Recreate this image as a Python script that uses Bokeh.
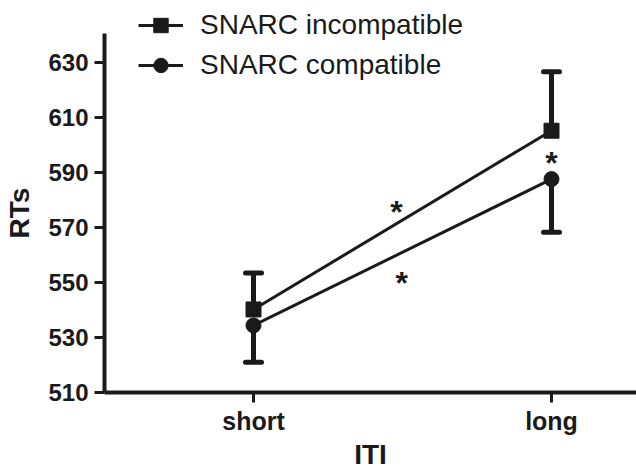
from bokeh.plotting import figure
from bokeh.models import (Range1d, FixedTicker, Legend, LegendItem, Whisker,
                          TeeHead, ColumnDataSource, Label)
from bokeh.core.properties import value
from bokeh.embed import file_html
from bokeh.resources import INLINE

# ---- data ----
iti_labels = ["short", "long"]
iti_pos = [1, 2]
incompat_mean = [540.2, 605.2]
incompat_sem = [13.3, 21.4]
compat_mean = [534.4, 587.6]
compat_sem = [13.4, 19.3]
star_x = [1.48, 1.497, 2.0]
star_y = [577.3, 551.5, 595.1]
y_ticks = [510, 530, 550, 570, 590, 610, 630]

FONT = "Liberation Sans"
col = "#1a1a1a"

# axes drawn at fixed positions inside a frame that fills the canvas
X_AXIS_BOUNDS = (0.5, 2.2852)
Y_AXIS_BOUNDS = (510, 640.5)

p = figure(output_backend="svg", toolbar_location=None, width=636, height=471,
           x_range=Range1d(0.1510, 2.2852), y_range=Range1d(481.27, 652.55),
           min_border=0)
p.outline_line_color = None
p.xgrid.visible = False
p.ygrid.visible = False

for ax in (p.xaxis[0], p.yaxis[0]):
    ax.axis_line_width = 4
    ax.axis_line_color = col
    ax.major_tick_line_width = 3
    ax.major_tick_line_color = col
    ax.major_tick_out = 10
    ax.major_tick_in = 0
    ax.minor_tick_line_color = None
    ax.major_label_text_font = FONT
    ax.major_label_text_font_style = "bold"
    ax.major_label_text_color = col
    ax.axis_label_text_font = FONT
    ax.axis_label_text_font_style = "bold"
    ax.axis_label_text_color = col
    ax.axis_label_text_font_size = "28px"

p.xaxis.fixed_location = Y_AXIS_BOUNDS[0]
p.xaxis.bounds = X_AXIS_BOUNDS
p.xaxis.ticker = FixedTicker(ticks=iti_pos)
p.xaxis.major_label_overrides = {k: v for k, v in zip(iti_pos, iti_labels)}
p.xaxis.major_label_text_font_size = "25px"
p.xaxis.major_label_standoff = 5

p.yaxis.fixed_location = X_AXIS_BOUNDS[0]
p.yaxis.bounds = Y_AXIS_BOUNDS
p.yaxis.ticker = FixedTicker(ticks=y_ticks)
p.yaxis.major_label_text_font_size = "24px"
p.yaxis.major_label_standoff = 6
p.yaxis.axis_label = "RTs"
p.yaxis.axis_label_standoff = 10

# x-axis title
xt = Label(x=sum(X_AXIS_BOUNDS) / 2, y=Y_AXIS_BOUNDS[0], y_offset=-47,
           text="ITI", text_font=FONT, text_font_style="bold", text_font_size="28px",
           text_color=col, text_align="center", text_baseline="top")
p.add_layout(xt)

# error bars
src_i = ColumnDataSource(dict(x=iti_pos, base=incompat_mean,
                              upper=[m + e for m, e in zip(incompat_mean, incompat_sem)]))
src_c = ColumnDataSource(dict(x=iti_pos, base=compat_mean,
                              lower=[m - e for m, e in zip(compat_mean, compat_sem)]))
w1 = Whisker(source=src_i, base="x", upper="upper", lower="base", dimension="height",
             line_width=5, line_color=col,
             upper_head=TeeHead(size=16, line_width=5, line_color=col, line_cap="round"),
             lower_head=None)
w2 = Whisker(source=src_c, base="x", upper="base", lower="lower", dimension="height",
             line_width=5, line_color=col,
             lower_head=TeeHead(size=16, line_width=5, line_color=col, line_cap="round"),
             upper_head=None)
p.add_layout(w1)
p.add_layout(w2)

l1 = p.line(iti_pos, incompat_mean, line_width=3, line_color=col)
m1 = p.scatter(iti_pos, incompat_mean, marker="square", size=15, color=col)
l2 = p.line(iti_pos, compat_mean, line_width=3, line_color=col)
m2 = p.scatter(iti_pos, compat_mean, marker="circle", size=15, color=col)

p.text(star_x, star_y, text=["*", "*", "*"], text_font=value(FONT),
       text_font_style="bold", text_font_size="32px", text_align="center",
       text_baseline="middle", text_color=col, y_offset=5)

legend = Legend(items=[LegendItem(label="SNARC incompatible", renderers=[l1, m1]),
                       LegendItem(label="SNARC compatible", renderers=[l2, m2])],
                location=(138, 386), orientation="vertical",
                border_line_color=None, background_fill_alpha=0,
                padding=0, margin=0, spacing=0,
                glyph_width=45, glyph_height=36, label_height=40,
                label_standoff=17, label_text_font=FONT,
                label_text_font_size="28px", label_text_color=col)
p.add_layout(legend, "center")

open("out.html", "w").write(file_html(p, INLINE))
